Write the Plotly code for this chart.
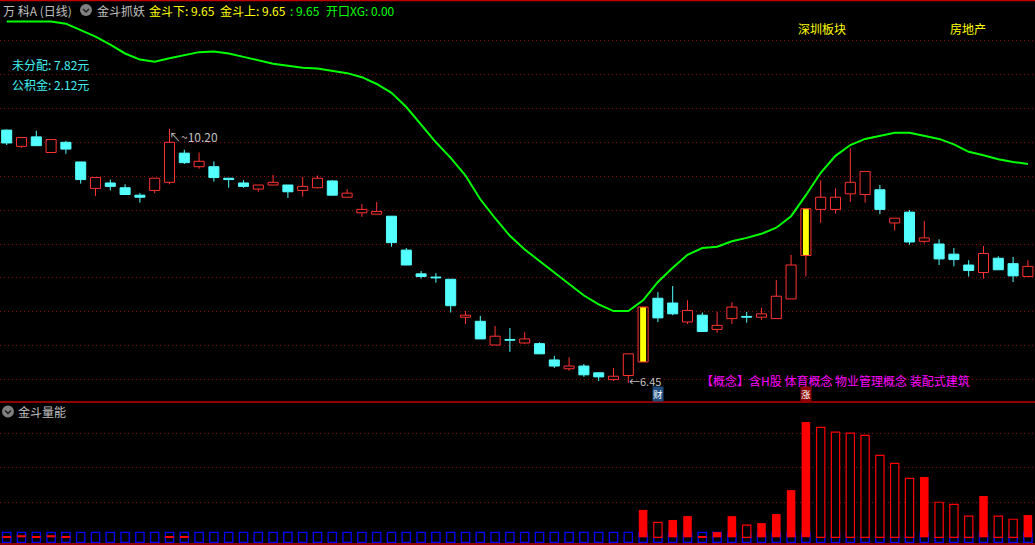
import plotly.graph_objects as go

W, H = 1035, 545
SPLIT_PX = 402          # pixel row of the separator between price and volume panes

# ---------------- data ----------------
opens = [10.18, 9.94, 10.08, 9.85, 10.00, 9.71, 9.32, 9.40, 9.33, 9.22,
         9.29, 9.41, 9.84, 9.64, 9.64, 9.47, 9.40, 9.31, 9.37, 9.37,
         9.29, 9.33, 9.43, 9.19, 8.96, 8.94, 8.91, 8.41, 8.06, 8.01,
         7.98, 7.42, 7.36, 7.01, 7.09, 7.04, 7.03, 6.79, 6.66, 6.70,
         6.60, 6.50, 6.56, 6.76, 7.70, 7.63, 7.35, 7.45, 7.24, 7.40,
         7.43, 7.42, 7.40, 7.69, 8.33, 9.01, 9.01, 9.24, 9.23, 9.30,
         8.81, 8.97, 8.54, 8.50, 8.35, 8.19, 8.08, 8.29, 8.21, 8.02]
closes = [9.99, 10.07, 9.95, 10.04, 9.90, 9.45, 9.48, 9.35, 9.23, 9.19,
          9.47, 10.00, 9.70, 9.72, 9.48, 9.45, 9.35, 9.37, 9.41, 9.27,
          9.35, 9.47, 9.22, 9.25, 9.01, 8.98, 8.52, 8.19, 8.02, 8.00,
          7.59, 7.45, 7.10, 7.14, 7.08, 7.10, 6.88, 6.70, 6.70, 6.57,
          6.54, 6.55, 6.88, 7.57, 7.41, 7.47, 7.52, 7.21, 7.30, 7.57,
          7.42, 7.47, 7.73, 8.19, 9.02, 9.19, 9.19, 9.41, 9.57, 9.01,
          8.88, 8.53, 8.59, 8.28, 8.27, 8.11, 8.36, 8.12, 8.03, 8.17]
highs = [10.19, 10.07, 10.17, 10.04, 10.02, 9.71, 9.48, 9.45, 9.38, 9.25,
         9.47, 10.20, 9.89, 9.85, 9.72, 9.47, 9.44, 9.37, 9.52, 9.37,
         9.49, 9.51, 9.44, 9.31, 9.09, 9.12, 8.91, 8.44, 8.10, 8.07,
         7.98, 7.51, 7.44, 7.29, 7.26, 7.20, 7.05, 6.85, 6.83, 6.73,
         6.61, 6.67, 6.88, 7.57, 7.79, 7.88, 7.67, 7.49, 7.50, 7.64,
         7.50, 7.56, 7.97, 8.34, 9.02, 9.44, 9.32, 9.91, 9.57, 9.37,
         8.88, 9.00, 8.84, 8.57, 8.44, 8.26, 8.47, 8.32, 8.31, 8.26]
lows = [9.96, 9.92, 9.95, 9.85, 9.83, 9.39, 9.21, 9.29, 9.23, 9.11,
        9.25, 9.38, 9.68, 9.61, 9.42, 9.33, 9.33, 9.27, 9.37, 9.18,
        9.20, 9.32, 9.21, 9.19, 8.90, 8.94, 8.46, 8.19, 7.99, 7.93,
        7.49, 7.32, 7.10, 7.01, 6.91, 7.03, 6.88, 6.67, 6.63, 6.54,
        6.48, 6.48, 6.45, 6.76, 7.35, 7.45, 7.32, 7.21, 7.19, 7.32,
        7.34, 7.38, 7.40, 7.69, 8.02, 8.81, 8.95, 9.12, 9.11, 8.94,
        8.70, 8.49, 8.51, 8.19, 8.17, 8.02, 7.99, 8.12, 7.94, 8.02]
limit_up_idx = [43, 54]

# 金斗抓妖 indicator line
jindou_line = [11.78, 11.78, 11.78, 11.78, 11.75, 11.65, 11.56, 11.44, 11.31, 11.22,
               11.19, 11.24, 11.29, 11.33, 11.34, 11.31, 11.26, 11.21, 11.16, 11.13,
               11.10, 11.09, 11.06, 11.02, 10.96, 10.86, 10.73, 10.52, 10.26, 10.00,
               9.77, 9.51, 9.16, 8.88, 8.62, 8.42, 8.25, 8.08, 7.92, 7.74,
               7.61, 7.51, 7.51, 7.67, 7.94, 8.15, 8.34, 8.44, 8.46, 8.54,
               8.59, 8.65, 8.74, 8.91, 9.22, 9.55, 9.80, 9.96, 10.05, 10.10,
               10.14, 10.14, 10.10, 10.05, 9.97, 9.86, 9.81, 9.75, 9.71, 9.68]

# 金斗量能 bars
volume = [3, 6, 3, 6, 3, 0, 0, 0, 0, 0,
          0, 3, 3, 0, 0, 0, 0, 0, 0, 0,
          0, 0, 0, 0, 0, 0, 0, 0, 0, 0,
          0, 0, 0, 0, 0, 0, 0, 0, 0, 0,
          0, 0, 0, 79, 43, 50, 61, 2, 15, 61,
          35, 41, 67, 136, 332, 317, 303, 300, 294, 236,
          213, 170, 174, 101, 95, 61, 119, 61, 52, 64]
volume_hollow_idx = [44, 50, 55, 56, 57, 58, 59, 60, 61, 63, 64, 65, 67, 68]

price_grid = [6.5, 7.0, 7.5, 8.0, 8.5, 9.0, 9.5, 10.0, 10.5, 11.0, 11.5]
volume_grid = [100, 200, 300]

high_label = "10.20"
low_label = "6.45"
high_idx, low_idx = 11, 42
cai_idx, zhang_idx = 44, 54

# ---------------- styling ----------------
BG = "#000000"
RED = "#FF3232"
CYAN = "#54FFFF"
YELLOW = "#FFFF00"
GREEN = "#00FF00"
VRED = "#FF0000"
BLUE = "#0000FF"
GRAY = "#C0C0C0"
GRID = "#8A0A0A"
FRAME = "#C00000"
FONT = "Noto Sans CJK SC"

n = len(opens)
idx = list(range(n))

fig = go.Figure()

up_idx = [i for i in idx if closes[i] >= opens[i] and i not in limit_up_idx]
dn_idx = [i for i in idx if closes[i] < opens[i]]


def body(ids):
    base = [min(opens[i], closes[i]) for i in ids]
    h = [max(abs(closes[i] - opens[i]), 0.012) for i in ids]
    return ids, base, h


# yellow inner fill of limit-up candles
x, b, h = body(limit_up_idx)
fig.add_trace(go.Bar(x=x, base=b, y=h, width=0.40, marker=dict(color=YELLOW, line=dict(width=0)),
                     xaxis="x", yaxis="y"))
# red outline of limit-up candles
fig.add_trace(go.Bar(x=x, base=b, y=h, width=0.68,
                     marker=dict(color="rgba(0,0,0,0)", line=dict(color=RED, width=1)),
                     xaxis="x", yaxis="y"))
# rising candles: hollow red
x, b, h = body(up_idx)
fig.add_trace(go.Bar(x=x, base=b, y=h, width=0.68,
                     marker=dict(color=BG, line=dict(color=RED, width=1)),
                     xaxis="x", yaxis="y"))
# falling candles: solid cyan
x, b, h = body(dn_idx)
fig.add_trace(go.Bar(x=x, base=b, y=h, width=0.68,
                     marker=dict(color=CYAN, line=dict(color=CYAN, width=1)),
                     xaxis="x", yaxis="y"))


def wicks(ids):
    xs, ys = [], []
    for i in ids:
        top = max(opens[i], closes[i])
        bot = min(opens[i], closes[i])
        if highs[i] > top:
            xs += [i, i, None]
            ys += [top, highs[i], None]
        if lows[i] < bot:
            xs += [i, i, None]
            ys += [lows[i], bot, None]
    return xs, ys


wx, wy = wicks(up_idx + limit_up_idx)
fig.add_trace(go.Scatter(x=wx, y=wy, mode="lines", line=dict(color=RED, width=1),
                         xaxis="x", yaxis="y"))
wx, wy = wicks(dn_idx)
fig.add_trace(go.Scatter(x=wx, y=wy, mode="lines", line=dict(color=CYAN, width=1),
                         xaxis="x", yaxis="y"))

# indicator line
fig.add_trace(go.Scatter(x=idx, y=jindou_line, mode="lines", line=dict(color=GREEN, width=2),
                         xaxis="x", yaxis="y"))

# ---------------- volume pane ----------------
BOX_HALF = 14.4  # half height of the blue marker boxes, in volume units
fig.add_trace(go.Bar(x=idx, base=[-BOX_HALF] * n, y=[2 * BOX_HALF] * n, width=0.56,
                     marker=dict(color=BG, line=dict(color=BLUE, width=1.3)),
                     xaxis="x2", yaxis="y2"))
vf = [i for i in idx if volume[i] > 0 and i not in volume_hollow_idx]
vh = [i for i in idx if volume[i] > 0 and i in volume_hollow_idx]
fig.add_trace(go.Bar(x=vf, y=[volume[i] for i in vf], base=0, width=0.58,
                     marker=dict(color=VRED, line=dict(width=0)),
                     xaxis="x2", yaxis="y2"))
fig.add_trace(go.Bar(x=vh, y=[volume[i] for i in vh], base=0, width=0.56,
                     marker=dict(color=BG, line=dict(color=VRED, width=1.2)),
                     xaxis="x2", yaxis="y2"))

# ---------------- axes ----------------
x_first_px, x_step_px = 6.7, 14.8
xr = [-x_first_px / x_step_px, (W - x_first_px) / x_step_px]
split = 1 - SPLIT_PX / H

# price calibration: 10.0 at pixel 142.3, 67.8 px per unit
p_ref, p_px, p_scale = 10.0, 142.3, 67.8
yr = [p_ref + (p_px - SPLIT_PX) / p_scale, p_ref + p_px / p_scale]
# volume calibration: 0 at pixel 537.3, 34.7 px per 100
v_px, v_scale = 537.3, 34.7 / 100
vr = [-(H - v_px) / v_scale, (v_px - SPLIT_PX) / v_scale]

hidden_x = dict(range=xr, visible=False, showgrid=False, zeroline=False, fixedrange=True)
fig.update_layout(
    width=W, height=H,
    margin=dict(l=0, r=0, t=0, b=0),
    paper_bgcolor=BG, plot_bgcolor=BG,
    showlegend=False, hovermode=False,
    barmode="overlay",
    xaxis=dict(domain=[0, 1], anchor="y", **hidden_x),
    xaxis2=dict(domain=[0, 1], anchor="y2", **hidden_x),
    yaxis=dict(domain=[split, 1], range=yr, anchor="x", tickvals=price_grid,
               showticklabels=False, ticks="", showgrid=True, gridcolor=GRID,
               griddash="1px,3px", gridwidth=1, zeroline=False, showline=False),
    yaxis2=dict(domain=[0, split], range=vr, anchor="x2", tickvals=volume_grid,
                showticklabels=False, ticks="", showgrid=True, gridcolor=GRID,
                griddash="1px,3px", gridwidth=1, zeroline=False, showline=False),
)


def P(xp, yp):
    return xp / W, 1 - yp / H


shapes = []
for yp in [0.5, SPLIT_PX, H - 1]:
    shapes.append(dict(type="line", xref="paper", yref="paper", x0=0, x1=1,
                       y0=1 - yp / H, y1=1 - yp / H, line=dict(color=FRAME, width=1.3)))


def icon(cx, cy):
    x0, y0 = P(cx - 6, cy - 6)
    x1, y1 = P(cx + 6, cy + 6)
    shapes.append(dict(type="circle", xref="paper", yref="paper", x0=x0, x1=x1, y0=y1, y1=y0,
                       fillcolor="#808080", line=dict(width=0)))
    a = P(cx - 3, cy - 1)
    bpt = P(cx, cy + 2)
    c = P(cx + 3, cy - 1)
    shapes.append(dict(type="path", xref="paper", yref="paper",
                       path=f"M {a[0]} {a[1]} L {bpt[0]} {bpt[1]} L {c[0]} {c[1]}",
                       line=dict(color="#202020", width=1.5)))


icon(86, 10)
icon(8, 411.5)
fig.update_layout(shapes=shapes)

ann = []


def text(xp, yp, s, color, size=12):
    xx, yy = P(xp, yp)
    ann.append(dict(x=xx, y=yy, xref="paper", yref="paper", text=s, showarrow=False,
                    xanchor="left", yanchor="middle",
                    font=dict(family=FONT, size=size, color=color), borderpad=0))


text(2, 10, "万 科A (日线)", GRAY)
text(96, 10, "金斗抓妖", GRAY)
text(148, 10, "金斗下: 9.65", YELLOW)
text(219, 10, "金斗上: 9.65", YELLOW)
text(289, 10, ": 9.65", GREEN)
text(325, 10, "开口XG: 0.00", GREEN)
text(11, 65, "未分配: 7.82元", "#40F0F0")
text(11, 84, "公积金: 2.12元", "#40F0F0")
text(797, 29, "深圳板块", YELLOW)
text(949, 29, "房地产", YELLOW)
text(17, 411.5, "金斗量能", GRAY)
text(700, 380.5, "【概念】含H股 体育概念 物业管理概念 装配式建筑", "#FF00FF", size=12)

# price extreme labels anchored to data
ann.append(dict(x=high_idx, y=highs[high_idx], xref="x", yref="y", text="↖~" + high_label,
                showarrow=False, xanchor="left", yanchor="top", xshift=-2, yshift=2,
                font=dict(family=FONT, size=12, color=GRAY), borderpad=0))
ann.append(dict(x=low_idx, y=lows[low_idx], xref="x", yref="y", text="←" + low_label,
                showarrow=False, xanchor="left", yanchor="middle", yshift=2,
                font=dict(family=FONT, size=11, color=GRAY), borderpad=0))
# 财 / 涨 markers at the bottom of the price pane
for i, s, bg in [(cai_idx, "财", "#1E4C7E"), (zhang_idx, "涨", "#8B0000")]:
    ann.append(dict(x=i, y=1 - 401.5 / H, xref="x", yref="paper", text=s, showarrow=False,
                    xanchor="center", yanchor="bottom", bgcolor=bg, borderpad=0,
                    font=dict(family=FONT, size=9.5, color="#FFFFFF")))

fig.update_layout(annotations=ann)

fig.write_html("out.html", config={"displayModeBar": False},
               post_script="document.body.style.margin='0';document.body.style.overflow='hidden';")
